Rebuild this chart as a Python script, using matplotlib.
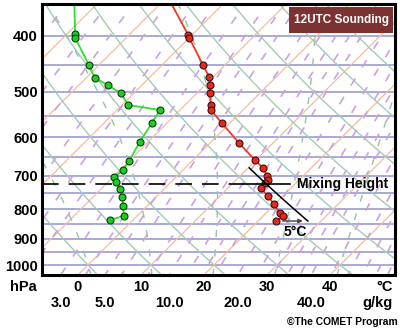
import numpy as np
import matplotlib
matplotlib.use('Agg')
import matplotlib.pyplot as plt
from matplotlib.ticker import NullLocator
from matplotlib.patches import Rectangle

plt.rcParams['font.family'] = ['Liberation Sans', 'DejaVu Sans']
plt.rcParams['font.weight'] = 'bold'

# sounding (hPa, degC); first point of each is only the line end
temp_p = [345, 398.5, 403, 449.3, 471.4, 486.8, 502.7, 527.3, 537.9, 566.7, 613.9,
          657.0, 678.4, 700.4, 711.8, 720.4, 734.9, 758.8, 783.5, 812.2, 822.0, 838.6]
temp_c = [-29.4, -20.6, -20.0, -13.5, -10.6, -9.2, -7.9, -5.9, -5.1, -1.3, 4.6,
          9.8, 12.4, 14.3, 15.1, 15.1, 15.2, 17.6, 19.8, 22.2, 23.2, 22.9]
dewp_p = [345, 397, 403, 449.3, 473.3, 486.8, 502.7, 527.3, 537.9, 566.7, 611.4,
          659.6, 683.9, 703.2, 717.5, 737.8, 761.9, 789.8, 822.0, 835.3]
dewp_c = [-44.4, -38.7, -38.1, -31.6, -28.6, -25.4, -22.1, -19.0, -13.2, -12.4, -11.3,
          -10.0, -9.5, -9.8, -8.7, -7.0, -5.4, -3.8, -2.1, -3.7]

p_labels = [400, 500, 600, 700, 800, 900, 1000]
t_labels = [0, 10, 20, 30, 40]
w_labels = [3.0, 5.0, 10.0, 20.0, 40.0]

mix_height = 723      # hPa
sfc_heating = 5       # degC added at the surface

# background lines
isobars = list(range(400, 1001, 50))
isotherms = list(range(-110, 60, 10))
dry_theta = list(range(-40, 131, 10))
moist_thw = list(range(-30, 41, 10))
mix_ratios = [0.1, 0.2, 0.4, 0.6, 1, 1.5, 2, 3, 4, 5, 6, 8, 10, 12, 14, 16, 20,
              24, 28, 32, 36, 40, 48, 56, 64, 72, 80]

P_BOT, P_TOP = 1040.8, 352.0
SKEW = 39.68


def skew_x(t, p):
    return np.asarray(t) + SKEW * np.log(P_BOT / np.asarray(p))


def dewpoint_from_w(w, p):
    e = w * p / (622.0 + w)
    a = np.log(e / 6.112)
    return 243.5 * a / (17.67 - a)


def moist_lapse(t, p):
    tk = t + 273.15
    es = 6.112 * np.exp(17.67 * t / (t + 243.5))
    rs = 0.622 * es / (p - es)
    lv, rd, cp = 2.5e6, 287.04, 1005.7
    return (rd * tk + lv * rs) / (p * (cp + lv ** 2 * rs * 0.622 / (rd * tk ** 2)))


def moist_adiabat(t0):
    ps_up = np.arange(1000, 340, -2.0)
    ts = [t0]
    for i in range(1, len(ps_up)):
        t, p, dp = ts[-1], ps_up[i - 1], ps_up[i] - ps_up[i - 1]
        k1 = moist_lapse(t, p)
        k2 = moist_lapse(t + k1 * dp, p + dp)
        ts.append(t + 0.5 * (k1 + k2) * dp)
    ps_dn = np.arange(1000, 1046, 2.0)
    td = [t0]
    for i in range(1, len(ps_dn)):
        t, p, dp = td[-1], ps_dn[i - 1], ps_dn[i] - ps_dn[i - 1]
        td.append(t + moist_lapse(t, p) * dp)
    return np.concatenate([ps_dn[::-1], ps_up[1:]]), np.concatenate([td[::-1], ts[1:]])


fig = plt.figure(figsize=(4.0, 3.3), dpi=100)
ax = fig.add_axes([42 / 400, 55 / 330, 353 / 400, 271 / 330])
ax.set_yscale('log')
ax.set_ylim(P_BOT, P_TOP)
ax.set_xlim(-5.71, 50.3)

pp = np.geomspace(340, 1050, 200)

for p in isobars:
    ax.axhline(p, color='#a9a9d9', lw=1.4, zorder=1)
for t in isotherms:
    ax.plot(skew_x(t, pp), pp, color='#f2bc9e', lw=0.9, zorder=1)
for th in dry_theta:
    tt = (th + 273.15) * (pp / 1000.0) ** 0.2857 - 273.15
    ax.plot(skew_x(tt, pp), pp, color='#a3ccb4', lw=1.0, zorder=1)
for thw in moist_thw:
    mp, mt = moist_adiabat(thw)
    ax.plot(skew_x(mt, mp), mp, color='#8fc6a6', lw=1.0, ls=(0, (5, 9)), zorder=1)
for w in mix_ratios:
    ax.plot(skew_x(dewpoint_from_w(w, pp), pp), pp, color='#c9a3dc', lw=1.2,
            ls=(0, (5, 8)), zorder=1)

# sounding
ax.plot(skew_x(temp_c, temp_p), temp_p, color='#ff3322', lw=1.3, zorder=4)
ax.plot(skew_x(temp_c[1:], temp_p[1:]), temp_p[1:], ls='none', marker='o', ms=5,
        mfc='#e52a1c', mec='#3a1010', mew=0.8, zorder=5)
ax.plot(skew_x(dewp_c, dewp_p), dewp_p, color='#2ee02e', lw=1.3, zorder=4)
ax.plot(skew_x(dewp_c[1:], dewp_p[1:]), dewp_p[1:], ls='none', marker='o', ms=5,
        mfc='#1fcc1f', mec='#103a10', mew=0.8, zorder=5)

# surface parcel heated by 5 C, dry adiabat up to the mixing height
p_sfc, t_sfc = temp_p[-1], temp_c[-1]
theta = (t_sfc + sfc_heating + 273.15) * (1000.0 / p_sfc) ** 0.2857
pa = np.geomspace(p_sfc, 678, 30)
ta = theta * (pa / 1000.0) ** 0.2857 - 273.15
ax.plot(skew_x(ta, pa), pa, color='black', lw=1.1, zorder=6)

t_mix = theta * (mix_height / 1000.0) ** 0.2857 - 273.15
x_mix = float(skew_x(t_mix, mix_height))
x_left = ax.get_xlim()[0]
ax.plot([x_left, x_mix - 3.5], [mix_height, mix_height], color='black', lw=1.2,
        ls=(0, (10, 6)), zorder=6)
ax.plot([x_mix - 3.5, x_mix + 3.8], [mix_height, mix_height], color='black', lw=1.2, zorder=6)
ax.annotate('Mixing Height', xy=(x_mix + 3.8, mix_height), xytext=(5, 0),
            textcoords='offset points', ha='left', va='center', fontsize=10)

x_a0 = float(skew_x(t_sfc + 1.0, p_sfc))
x_a1 = float(skew_x(t_sfc + 4.2, p_sfc))
ax.annotate('', xy=(x_a1, p_sfc), xytext=(x_a0, p_sfc),
            arrowprops=dict(arrowstyle='-|>', color='#444444', lw=1.0,
                            mutation_scale=6, shrinkA=0, shrinkB=0), zorder=6)
ax.annotate('5°C', xy=((x_a0 + x_a1) / 2, p_sfc), xytext=(2, -8),
            textcoords='offset points', ha='center', va='center', fontsize=10)

# axes
for s in ax.spines.values():
    s.set_linewidth(2.2)
    s.set_color('black')
    s.set_zorder(7)
ax.yaxis.set_minor_locator(NullLocator())
ax.set_yticks(p_labels)
ax.set_yticklabels([str(p) for p in p_labels])
ax.tick_params(axis='y', length=0, pad=3, labelsize=10.5)
ax.set_xticks([])

xt = ax.get_xaxis_transform()
for t in t_labels:
    ax.text(t, -0.044, str(t), transform=xt, ha='center', va='center', fontsize=10.5)
for w in w_labels:
    ax.text(float(dewpoint_from_w(w, P_BOT)), -0.103, f'{w:.1f}', transform=xt,
            ha='center', va='center', fontsize=10.5)
fig.text(393 / 400, 1 - 287 / 330, '°C', ha='right', va='center', fontsize=10.5)
fig.text(393 / 400, 1 - 303 / 330, 'g/kg', ha='right', va='center', fontsize=10.5)
fig.text(37 / 400, 1 - 287 / 330, 'hPa', ha='right', va='center', fontsize=10.5)
fig.text(398 / 400, 1 - 322 / 330, '©The COMET Program', ha='right', va='center',
         fontsize=7.4)

# title box
fig.patches.append(Rectangle((289 / 400, 1 - 33 / 330), 104 / 400, 26 / 330,
                             transform=fig.transFigure, facecolor='#7d3232',
                             edgecolor='none', zorder=10))
fig.text(341 / 400, 1 - 20 / 330, '12UTC Sounding', color='white', ha='center',
         va='center', fontsize=8.5, zorder=11)

fig.savefig('out.png', dpi=100)
